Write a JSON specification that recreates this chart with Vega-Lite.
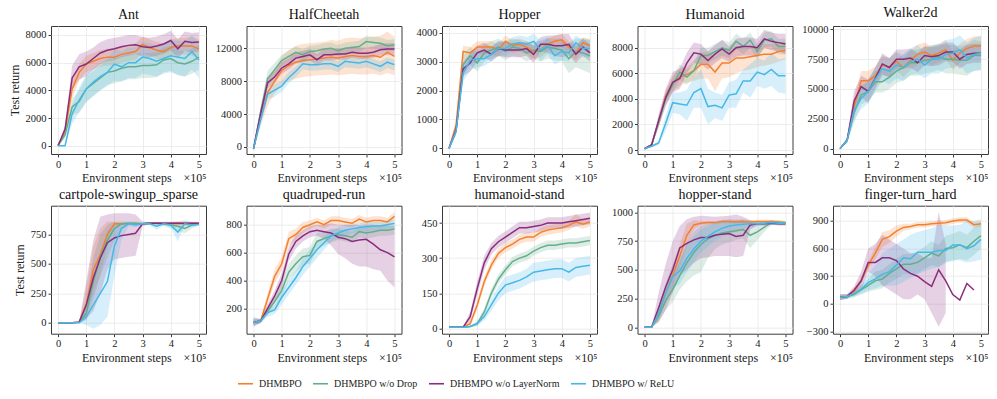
{
"$schema": "https://vega.github.io/schema/vega-lite/v6.json",
"padding": {"left": 7, "top": 5, "right": 5, "bottom": 5},
"columns": 5,
"spacing": {"row": 51.7, "column": 40.5},
"bounds": "flush",
"datasets": {
"ant": [
{"s":"a","x":0,"m":0,"l":0,"h":0},{"s":"a","x":0.25,"m":1000,"l":700,"h":1300},{"s":"a","x":0.5,"m":4100,"l":3400,"h":4800},{"s":"a","x":0.75,"m":5300,"l":4700,"h":5900},{"s":"a","x":1,"m":5900,"l":5300,"h":6500},{"s":"a","x":1.25,"m":6100,"l":5500,"h":6700},{"s":"a","x":1.5,"m":6300,"l":5700,"h":6900},{"s":"a","x":1.75,"m":6400,"l":5800,"h":7000},{"s":"a","x":2,"m":6400,"l":5800,"h":7000},{"s":"a","x":2.25,"m":6600,"l":6000,"h":7200},{"s":"a","x":2.5,"m":6700,"l":6100,"h":7300},{"s":"a","x":2.75,"m":6800,"l":6200,"h":7400},{"s":"a","x":3,"m":7300,"l":6700,"h":7900},{"s":"a","x":3.25,"m":7100,"l":6500,"h":7700},{"s":"a","x":3.5,"m":6900,"l":6300,"h":7500},{"s":"a","x":3.75,"m":6800,"l":6200,"h":7400},{"s":"a","x":4,"m":7100,"l":6500,"h":7700},{"s":"a","x":4.25,"m":7200,"l":6600,"h":7800},{"s":"a","x":4.5,"m":7200,"l":6600,"h":7800},{"s":"a","x":4.75,"m":7200,"l":6500,"h":7900},{"s":"a","x":5,"m":7000,"l":6300,"h":7700},
{"s":"b","x":0,"m":0,"l":0,"h":0},{"s":"b","x":0.25,"m":800,"l":500,"h":1100},{"s":"b","x":0.5,"m":2800,"l":2200,"h":3400},{"s":"b","x":0.75,"m":3200,"l":2400,"h":4000},{"s":"b","x":1,"m":4100,"l":3200,"h":5000},{"s":"b","x":1.25,"m":4500,"l":3600,"h":5400},{"s":"b","x":1.5,"m":4900,"l":4000,"h":5800},{"s":"b","x":1.75,"m":5300,"l":4400,"h":6200},{"s":"b","x":2,"m":5400,"l":4500,"h":6300},{"s":"b","x":2.25,"m":5600,"l":4700,"h":6500},{"s":"b","x":2.5,"m":5700,"l":4800,"h":6600},{"s":"b","x":2.75,"m":5700,"l":4800,"h":6600},{"s":"b","x":3,"m":5800,"l":4900,"h":6700},{"s":"b","x":3.25,"m":5800,"l":4900,"h":6700},{"s":"b","x":3.5,"m":5850,"l":4950,"h":6750},{"s":"b","x":3.75,"m":6200,"l":5300,"h":7100},{"s":"b","x":4,"m":6300,"l":5400,"h":7200},{"s":"b","x":4.25,"m":6000,"l":5100,"h":6900},{"s":"b","x":4.5,"m":5900,"l":5000,"h":6800},{"s":"b","x":4.75,"m":6100,"l":5200,"h":7000},{"s":"b","x":5,"m":6400,"l":5500,"h":7300},
{"s":"c","x":0,"m":0,"l":0,"h":0},{"s":"c","x":0.25,"m":1200,"l":900,"h":1500},{"s":"c","x":0.5,"m":4900,"l":4000,"h":5800},{"s":"c","x":0.75,"m":5700,"l":4800,"h":6600},{"s":"c","x":1,"m":5900,"l":5000,"h":6800},{"s":"c","x":1.25,"m":6300,"l":5500,"h":7100},{"s":"c","x":1.5,"m":6700,"l":5900,"h":7500},{"s":"c","x":1.75,"m":6900,"l":6100,"h":7700},{"s":"c","x":2,"m":7000,"l":6200,"h":7800},{"s":"c","x":2.25,"m":7150,"l":6400,"h":7900},{"s":"c","x":2.5,"m":7250,"l":6500,"h":8000},{"s":"c","x":2.75,"m":7300,"l":6600,"h":8000},{"s":"c","x":3,"m":7150,"l":6450,"h":7850},{"s":"c","x":3.25,"m":7100,"l":6400,"h":7800},{"s":"c","x":3.5,"m":7200,"l":6500,"h":7900},{"s":"c","x":3.75,"m":7350,"l":6650,"h":8050},{"s":"c","x":4,"m":7600,"l":6900,"h":8300},{"s":"c","x":4.25,"m":7000,"l":6300,"h":7700},{"s":"c","x":4.5,"m":7550,"l":6850,"h":8250},{"s":"c","x":4.75,"m":7450,"l":6750,"h":8150},{"s":"c","x":5,"m":7500,"l":6800,"h":8200},
{"s":"d","x":0,"m":0,"l":0,"h":0},{"s":"d","x":0.25,"m":0,"l":0,"h":0},{"s":"d","x":0.5,"m":2300,"l":1600,"h":3000},{"s":"d","x":0.75,"m":3300,"l":2400,"h":4200},{"s":"d","x":1,"m":4100,"l":3100,"h":5100},{"s":"d","x":1.25,"m":4600,"l":3600,"h":5600},{"s":"d","x":1.5,"m":5000,"l":4000,"h":6000},{"s":"d","x":1.75,"m":5300,"l":4300,"h":6300},{"s":"d","x":2,"m":5900,"l":4700,"h":7000},{"s":"d","x":2.25,"m":5700,"l":4600,"h":6800},{"s":"d","x":2.5,"m":6000,"l":4900,"h":7100},{"s":"d","x":2.75,"m":6000,"l":4900,"h":7100},{"s":"d","x":3,"m":6400,"l":5200,"h":7500},{"s":"d","x":3.25,"m":6300,"l":5100,"h":7400},{"s":"d","x":3.5,"m":6100,"l":5000,"h":7200},{"s":"d","x":3.75,"m":6300,"l":5200,"h":7400},{"s":"d","x":4,"m":6500,"l":5300,"h":7600},{"s":"d","x":4.25,"m":6400,"l":5100,"h":7600},{"s":"d","x":4.5,"m":6300,"l":5000,"h":7500},{"s":"d","x":4.75,"m":6800,"l":5500,"h":8000},{"s":"d","x":5,"m":6200,"l":4900,"h":7400}
],
"hc": [
{"s":"a","x":0,"m":-200,"l":-400,"h":0},{"s":"a","x":0.25,"m":3500,"l":2500,"h":4500},{"s":"a","x":0.5,"m":6600,"l":5000,"h":8000},{"s":"a","x":0.75,"m":8000,"l":6500,"h":9500},{"s":"a","x":1,"m":9300,"l":7600,"h":11000},{"s":"a","x":1.25,"m":9900,"l":8000,"h":11800},{"s":"a","x":1.5,"m":10300,"l":8300,"h":12300},{"s":"a","x":1.75,"m":10500,"l":8500,"h":12500},{"s":"a","x":2,"m":10600,"l":8600,"h":12600},{"s":"a","x":2.25,"m":10700,"l":8700,"h":12700},{"s":"a","x":2.5,"m":10800,"l":8700,"h":12800},{"s":"a","x":2.75,"m":10900,"l":8800,"h":13000},{"s":"a","x":3,"m":10800,"l":8700,"h":12900},{"s":"a","x":3.25,"m":11000,"l":8800,"h":13200},{"s":"a","x":3.5,"m":11100,"l":8900,"h":13300},{"s":"a","x":3.75,"m":11000,"l":8800,"h":13200},{"s":"a","x":4,"m":11000,"l":8800,"h":13300},{"s":"a","x":4.25,"m":11100,"l":8900,"h":13400},{"s":"a","x":4.5,"m":10900,"l":8700,"h":13500},{"s":"a","x":4.75,"m":11500,"l":9000,"h":14000},{"s":"a","x":5,"m":11000,"l":8700,"h":13400},
{"s":"b","x":0,"m":-200,"l":-400,"h":0},{"s":"b","x":0.25,"m":4200,"l":3500,"h":4900},{"s":"b","x":0.5,"m":8300,"l":7300,"h":9300},{"s":"b","x":0.75,"m":9400,"l":8600,"h":10200},{"s":"b","x":1,"m":10500,"l":9800,"h":11200},{"s":"b","x":1.25,"m":11000,"l":10300,"h":11700},{"s":"b","x":1.5,"m":11500,"l":10800,"h":12200},{"s":"b","x":1.75,"m":11200,"l":10500,"h":11900},{"s":"b","x":2,"m":11600,"l":10900,"h":12300},{"s":"b","x":2.25,"m":11700,"l":11000,"h":12400},{"s":"b","x":2.5,"m":11900,"l":11200,"h":12600},{"s":"b","x":2.75,"m":12000,"l":11300,"h":12700},{"s":"b","x":3,"m":11700,"l":11000,"h":12400},{"s":"b","x":3.25,"m":12000,"l":11300,"h":12700},{"s":"b","x":3.5,"m":12100,"l":11400,"h":12800},{"s":"b","x":3.75,"m":12200,"l":11500,"h":12900},{"s":"b","x":4,"m":12800,"l":12100,"h":13500},{"s":"b","x":4.25,"m":12700,"l":12000,"h":13400},{"s":"b","x":4.5,"m":12600,"l":11900,"h":13300},{"s":"b","x":4.75,"m":12300,"l":11600,"h":13000},{"s":"b","x":5,"m":12400,"l":11700,"h":13100},
{"s":"c","x":0,"m":-200,"l":-400,"h":0},{"s":"c","x":0.25,"m":4000,"l":3300,"h":4700},{"s":"c","x":0.5,"m":7800,"l":7100,"h":8500},{"s":"c","x":0.75,"m":8500,"l":7800,"h":9200},{"s":"c","x":1,"m":9600,"l":8900,"h":10300},{"s":"c","x":1.25,"m":10100,"l":9400,"h":10800},{"s":"c","x":1.5,"m":10800,"l":10100,"h":11500},{"s":"c","x":1.75,"m":11000,"l":10300,"h":11700},{"s":"c","x":2,"m":11200,"l":10500,"h":11900},{"s":"c","x":2.25,"m":10600,"l":9900,"h":11300},{"s":"c","x":2.5,"m":11200,"l":10500,"h":11900},{"s":"c","x":2.75,"m":11200,"l":10500,"h":11900},{"s":"c","x":3,"m":11300,"l":10600,"h":12000},{"s":"c","x":3.25,"m":11300,"l":10600,"h":12000},{"s":"c","x":3.5,"m":11500,"l":10800,"h":12200},{"s":"c","x":3.75,"m":11400,"l":10700,"h":12100},{"s":"c","x":4,"m":11400,"l":10700,"h":12100},{"s":"c","x":4.25,"m":11500,"l":10800,"h":12200},{"s":"c","x":4.5,"m":11800,"l":11100,"h":12500},{"s":"c","x":4.75,"m":11900,"l":11200,"h":12600},{"s":"c","x":5,"m":11900,"l":11200,"h":12600},
{"s":"d","x":0,"m":-200,"l":-400,"h":0},{"s":"d","x":0.25,"m":3300,"l":2600,"h":4000},{"s":"d","x":0.5,"m":6400,"l":5800,"h":7000},{"s":"d","x":0.75,"m":6900,"l":6100,"h":7700},{"s":"d","x":1,"m":7400,"l":6700,"h":8000},{"s":"d","x":1.25,"m":8400,"l":7700,"h":9100},{"s":"d","x":1.5,"m":9200,"l":8500,"h":9800},{"s":"d","x":1.75,"m":10100,"l":9400,"h":10700},{"s":"d","x":2,"m":10000,"l":9300,"h":10600},{"s":"d","x":2.25,"m":10000,"l":9300,"h":10600},{"s":"d","x":2.5,"m":10100,"l":9400,"h":10700},{"s":"d","x":2.75,"m":10100,"l":9400,"h":10700},{"s":"d","x":3,"m":9800,"l":9100,"h":10400},{"s":"d","x":3.25,"m":10400,"l":9700,"h":11000},{"s":"d","x":3.5,"m":10300,"l":9600,"h":10900},{"s":"d","x":3.75,"m":10200,"l":9500,"h":10800},{"s":"d","x":4,"m":10400,"l":9700,"h":11000},{"s":"d","x":4.25,"m":10100,"l":9400,"h":10700},{"s":"d","x":4.5,"m":9800,"l":9100,"h":10400},{"s":"d","x":4.75,"m":10300,"l":9600,"h":10900},{"s":"d","x":5,"m":10000,"l":9300,"h":10600}
],
"hop": [
{"s":"a","x":0,"m":0,"l":0,"h":0},{"s":"a","x":0.25,"m":800,"l":600,"h":1000},{"s":"a","x":0.5,"m":3350,"l":3050,"h":3550},{"s":"a","x":0.75,"m":3300,"l":3050,"h":3500},{"s":"a","x":1,"m":3500,"l":3250,"h":3700},{"s":"a","x":1.25,"m":3500,"l":3250,"h":3700},{"s":"a","x":1.5,"m":3500,"l":3250,"h":3700},{"s":"a","x":1.75,"m":3400,"l":3150,"h":3600},{"s":"a","x":2,"m":3700,"l":3450,"h":3900},{"s":"a","x":2.25,"m":3550,"l":3300,"h":3750},{"s":"a","x":2.5,"m":3600,"l":3350,"h":3800},{"s":"a","x":2.75,"m":3500,"l":3250,"h":3700},{"s":"a","x":3,"m":3350,"l":3100,"h":3550},{"s":"a","x":3.25,"m":3400,"l":3150,"h":3600},{"s":"a","x":3.5,"m":3600,"l":3350,"h":3800},{"s":"a","x":3.75,"m":3700,"l":3450,"h":3900},{"s":"a","x":4,"m":3750,"l":3500,"h":3950},{"s":"a","x":4.25,"m":3500,"l":3250,"h":3700},{"s":"a","x":4.5,"m":3300,"l":3050,"h":3500},{"s":"a","x":4.75,"m":3650,"l":3400,"h":3850},{"s":"a","x":5,"m":3550,"l":3300,"h":3750},
{"s":"b","x":0,"m":0,"l":0,"h":0},{"s":"b","x":0.25,"m":600,"l":450,"h":750},{"s":"b","x":0.5,"m":2900,"l":2500,"h":3200},{"s":"b","x":0.75,"m":3200,"l":2900,"h":3500},{"s":"b","x":1,"m":2950,"l":2650,"h":3250},{"s":"b","x":1.25,"m":3300,"l":3000,"h":3600},{"s":"b","x":1.5,"m":3400,"l":3100,"h":3700},{"s":"b","x":1.75,"m":3500,"l":3200,"h":3800},{"s":"b","x":2,"m":3350,"l":3050,"h":3650},{"s":"b","x":2.25,"m":3500,"l":3200,"h":3800},{"s":"b","x":2.5,"m":3450,"l":3150,"h":3750},{"s":"b","x":2.75,"m":3300,"l":3000,"h":3600},{"s":"b","x":3,"m":3400,"l":3100,"h":3700},{"s":"b","x":3.25,"m":3350,"l":3000,"h":3700},{"s":"b","x":3.5,"m":3500,"l":3100,"h":3800},{"s":"b","x":3.75,"m":3450,"l":3050,"h":3800},{"s":"b","x":4,"m":3400,"l":3000,"h":3800},{"s":"b","x":4.25,"m":3100,"l":2600,"h":3600},{"s":"b","x":4.5,"m":3350,"l":2800,"h":3800},{"s":"b","x":4.75,"m":3300,"l":2700,"h":3800},{"s":"b","x":5,"m":3200,"l":2600,"h":3800},
{"s":"c","x":0,"m":0,"l":0,"h":0},{"s":"c","x":0.25,"m":650,"l":500,"h":800},{"s":"c","x":0.5,"m":2750,"l":2500,"h":3000},{"s":"c","x":0.75,"m":2950,"l":2650,"h":3250},{"s":"c","x":1,"m":3300,"l":3000,"h":3550},{"s":"c","x":1.25,"m":3400,"l":3150,"h":3650},{"s":"c","x":1.5,"m":3250,"l":3000,"h":3500},{"s":"c","x":1.75,"m":3450,"l":3200,"h":3700},{"s":"c","x":2,"m":3400,"l":3150,"h":3650},{"s":"c","x":2.25,"m":3400,"l":3150,"h":3650},{"s":"c","x":2.5,"m":3400,"l":3150,"h":3650},{"s":"c","x":2.75,"m":3450,"l":3200,"h":3700},{"s":"c","x":3,"m":3250,"l":2950,"h":3550},{"s":"c","x":3.25,"m":3600,"l":3350,"h":3850},{"s":"c","x":3.5,"m":3600,"l":3300,"h":3900},{"s":"c","x":3.75,"m":3550,"l":3200,"h":3900},{"s":"c","x":4,"m":3550,"l":3150,"h":3950},{"s":"c","x":4.25,"m":3600,"l":3200,"h":3950},{"s":"c","x":4.5,"m":3250,"l":2950,"h":3550},{"s":"c","x":4.75,"m":3500,"l":3200,"h":3800},{"s":"c","x":5,"m":3300,"l":3000,"h":3600},
{"s":"d","x":0,"m":0,"l":0,"h":0},{"s":"d","x":0.25,"m":600,"l":450,"h":750},{"s":"d","x":0.5,"m":2600,"l":2300,"h":2900},{"s":"d","x":0.75,"m":3050,"l":2700,"h":3350},{"s":"d","x":1,"m":3100,"l":2800,"h":3400},{"s":"d","x":1.25,"m":3100,"l":2850,"h":3350},{"s":"d","x":1.5,"m":3250,"l":3000,"h":3500},{"s":"d","x":1.75,"m":3450,"l":3200,"h":3700},{"s":"d","x":2,"m":3450,"l":3200,"h":3700},{"s":"d","x":2.25,"m":3600,"l":3350,"h":3850},{"s":"d","x":2.5,"m":3650,"l":3400,"h":3900},{"s":"d","x":2.75,"m":3600,"l":3350,"h":3850},{"s":"d","x":3,"m":3700,"l":3450,"h":3950},{"s":"d","x":3.25,"m":3400,"l":3000,"h":3750},{"s":"d","x":3.5,"m":3550,"l":3250,"h":3850},{"s":"d","x":3.75,"m":3200,"l":2900,"h":3500},{"s":"d","x":4,"m":3350,"l":3050,"h":3650},{"s":"d","x":4.25,"m":3300,"l":3000,"h":3600},{"s":"d","x":4.5,"m":3650,"l":3400,"h":3900},{"s":"d","x":4.75,"m":3450,"l":3150,"h":3750},{"s":"d","x":5,"m":3450,"l":3150,"h":3750}
],
"hum": [
{"s":"a","x":0,"m":100,"l":100,"h":100},{"s":"a","x":0.25,"m":400,"l":300,"h":500},{"s":"a","x":0.5,"m":2200,"l":1800,"h":2600},{"s":"a","x":0.75,"m":4200,"l":3700,"h":4700},{"s":"a","x":1,"m":5200,"l":4600,"h":5800},{"s":"a","x":1.25,"m":5700,"l":5000,"h":6400},{"s":"a","x":1.5,"m":5900,"l":5300,"h":6500},{"s":"a","x":1.75,"m":6200,"l":5400,"h":7000},{"s":"a","x":2,"m":6700,"l":5600,"h":7600},{"s":"a","x":2.25,"m":6700,"l":5600,"h":7700},{"s":"a","x":2.5,"m":6100,"l":4600,"h":7300},{"s":"a","x":2.75,"m":6800,"l":5600,"h":7800},{"s":"a","x":3,"m":6800,"l":5700,"h":7800},{"s":"a","x":3.25,"m":7200,"l":6000,"h":8200},{"s":"a","x":3.5,"m":7200,"l":6200,"h":8000},{"s":"a","x":3.75,"m":7300,"l":6300,"h":8100},{"s":"a","x":4,"m":7400,"l":6500,"h":8200},{"s":"a","x":4.25,"m":7500,"l":6600,"h":8300},{"s":"a","x":4.5,"m":7500,"l":6700,"h":8300},{"s":"a","x":4.75,"m":7700,"l":6900,"h":8400},{"s":"a","x":5,"m":7800,"l":7100,"h":8500},
{"s":"b","x":0,"m":100,"l":100,"h":100},{"s":"b","x":0.25,"m":400,"l":300,"h":500},{"s":"b","x":0.5,"m":2200,"l":1800,"h":2600},{"s":"b","x":0.75,"m":4000,"l":3500,"h":4500},{"s":"b","x":1,"m":5100,"l":4500,"h":5700},{"s":"b","x":1.25,"m":6100,"l":5500,"h":6700},{"s":"b","x":1.5,"m":5700,"l":5100,"h":6300},{"s":"b","x":1.75,"m":6200,"l":5600,"h":6800},{"s":"b","x":2,"m":7400,"l":6800,"h":8000},{"s":"b","x":2.25,"m":7400,"l":6800,"h":8000},{"s":"b","x":2.5,"m":7700,"l":7100,"h":8300},{"s":"b","x":2.75,"m":8000,"l":7400,"h":8600},{"s":"b","x":3,"m":7800,"l":7200,"h":8400},{"s":"b","x":3.25,"m":8500,"l":7900,"h":9100},{"s":"b","x":3.5,"m":8100,"l":7500,"h":8700},{"s":"b","x":3.75,"m":8600,"l":8000,"h":9200},{"s":"b","x":4,"m":7700,"l":7100,"h":8300},{"s":"b","x":4.25,"m":8600,"l":8000,"h":9200},{"s":"b","x":4.5,"m":8700,"l":8100,"h":9300},{"s":"b","x":4.75,"m":8100,"l":7500,"h":8700},{"s":"b","x":5,"m":8100,"l":7500,"h":8700},
{"s":"c","x":0,"m":100,"l":100,"h":100},{"s":"c","x":0.25,"m":400,"l":300,"h":500},{"s":"c","x":0.5,"m":2300,"l":1800,"h":2800},{"s":"c","x":0.75,"m":4100,"l":3400,"h":4800},{"s":"c","x":1,"m":5300,"l":4500,"h":6100},{"s":"c","x":1.25,"m":5600,"l":4800,"h":6400},{"s":"c","x":1.5,"m":6800,"l":6000,"h":7600},{"s":"c","x":1.75,"m":7600,"l":6800,"h":8400},{"s":"c","x":2,"m":7500,"l":6700,"h":8300},{"s":"c","x":2.25,"m":7000,"l":6300,"h":7700},{"s":"c","x":2.5,"m":7500,"l":6800,"h":8200},{"s":"c","x":2.75,"m":7900,"l":7200,"h":8600},{"s":"c","x":3,"m":7500,"l":6900,"h":8100},{"s":"c","x":3.25,"m":8000,"l":7300,"h":8700},{"s":"c","x":3.5,"m":8100,"l":7400,"h":8800},{"s":"c","x":3.75,"m":8100,"l":7400,"h":8800},{"s":"c","x":4,"m":8000,"l":7300,"h":8700},{"s":"c","x":4.25,"m":8700,"l":8000,"h":9400},{"s":"c","x":4.5,"m":8500,"l":7800,"h":9200},{"s":"c","x":4.75,"m":8400,"l":7700,"h":9100},{"s":"c","x":5,"m":8300,"l":7500,"h":9100},
{"s":"d","x":0,"m":100,"l":100,"h":100},{"s":"d","x":0.25,"m":300,"l":200,"h":400},{"s":"d","x":0.5,"m":550,"l":400,"h":700},{"s":"d","x":0.75,"m":2100,"l":1500,"h":2700},{"s":"d","x":1,"m":3700,"l":2900,"h":4500},{"s":"d","x":1.25,"m":3600,"l":2800,"h":4500},{"s":"d","x":1.5,"m":3500,"l":2300,"h":4700},{"s":"d","x":1.75,"m":4500,"l":3300,"h":5700},{"s":"d","x":2,"m":4800,"l":3300,"h":6300},{"s":"d","x":2.25,"m":3400,"l":2000,"h":4800},{"s":"d","x":2.5,"m":3500,"l":2500,"h":4500},{"s":"d","x":2.75,"m":3300,"l":2300,"h":4300},{"s":"d","x":3,"m":4300,"l":3300,"h":5300},{"s":"d","x":3.25,"m":4400,"l":3300,"h":5500},{"s":"d","x":3.5,"m":5400,"l":4500,"h":6300},{"s":"d","x":3.75,"m":5400,"l":4100,"h":6700},{"s":"d","x":4,"m":6100,"l":5000,"h":7200},{"s":"d","x":4.25,"m":5900,"l":4800,"h":7000},{"s":"d","x":4.5,"m":6300,"l":5000,"h":7600},{"s":"d","x":4.75,"m":5800,"l":4500,"h":7100},{"s":"d","x":5,"m":5800,"l":4400,"h":7200}
],
"wal": [
{"s":"a","x":0,"m":0,"l":0,"h":0},{"s":"a","x":0.25,"m":700,"l":500,"h":900},{"s":"a","x":0.5,"m":3500,"l":2700,"h":4300},{"s":"a","x":0.75,"m":5700,"l":4900,"h":6500},{"s":"a","x":1,"m":5700,"l":4900,"h":6500},{"s":"a","x":1.25,"m":6100,"l":5300,"h":6900},{"s":"a","x":1.5,"m":7000,"l":6200,"h":7800},{"s":"a","x":1.75,"m":6800,"l":6000,"h":7600},{"s":"a","x":2,"m":7300,"l":6500,"h":8100},{"s":"a","x":2.25,"m":6800,"l":6000,"h":7600},{"s":"a","x":2.5,"m":7400,"l":6600,"h":8200},{"s":"a","x":2.75,"m":7900,"l":7100,"h":8700},{"s":"a","x":3,"m":8100,"l":7300,"h":8900},{"s":"a","x":3.25,"m":7800,"l":7000,"h":8600},{"s":"a","x":3.5,"m":8000,"l":7200,"h":8800},{"s":"a","x":3.75,"m":8300,"l":7500,"h":9100},{"s":"a","x":4,"m":7400,"l":6600,"h":8200},{"s":"a","x":4.25,"m":8000,"l":7200,"h":8800},{"s":"a","x":4.5,"m":8400,"l":7600,"h":9200},{"s":"a","x":4.75,"m":8600,"l":7800,"h":9400},{"s":"a","x":5,"m":8600,"l":7800,"h":9400},
{"s":"b","x":0,"m":0,"l":0,"h":0},{"s":"b","x":0.25,"m":700,"l":500,"h":900},{"s":"b","x":0.5,"m":3000,"l":2200,"h":3800},{"s":"b","x":0.75,"m":4500,"l":3700,"h":5300},{"s":"b","x":1,"m":4800,"l":4000,"h":5600},{"s":"b","x":1.25,"m":5600,"l":4700,"h":6500},{"s":"b","x":1.5,"m":5600,"l":4700,"h":6500},{"s":"b","x":1.75,"m":6000,"l":5000,"h":7000},{"s":"b","x":2,"m":6500,"l":5500,"h":7500},{"s":"b","x":2.25,"m":6800,"l":5700,"h":7900},{"s":"b","x":2.5,"m":7200,"l":6100,"h":8300},{"s":"b","x":2.75,"m":7200,"l":6100,"h":8300},{"s":"b","x":3,"m":7400,"l":6300,"h":8500},{"s":"b","x":3.25,"m":7500,"l":6400,"h":8600},{"s":"b","x":3.5,"m":7700,"l":6600,"h":8800},{"s":"b","x":3.75,"m":7500,"l":6300,"h":8700},{"s":"b","x":4,"m":7500,"l":6300,"h":8700},{"s":"b","x":4.25,"m":7400,"l":6200,"h":8600},{"s":"b","x":4.5,"m":7400,"l":6100,"h":8700},{"s":"b","x":4.75,"m":7800,"l":6500,"h":9100},{"s":"b","x":5,"m":7800,"l":6600,"h":9000},
{"s":"c","x":0,"m":0,"l":0,"h":0},{"s":"c","x":0.25,"m":700,"l":500,"h":900},{"s":"c","x":0.5,"m":4000,"l":3200,"h":4800},{"s":"c","x":0.75,"m":5200,"l":4300,"h":6100},{"s":"c","x":1,"m":4800,"l":3800,"h":5800},{"s":"c","x":1.25,"m":5900,"l":5000,"h":6800},{"s":"c","x":1.5,"m":7100,"l":6200,"h":8000},{"s":"c","x":1.75,"m":6800,"l":6000,"h":7600},{"s":"c","x":2,"m":7500,"l":6700,"h":8300},{"s":"c","x":2.25,"m":7500,"l":6700,"h":8300},{"s":"c","x":2.5,"m":7600,"l":6800,"h":8400},{"s":"c","x":2.75,"m":7200,"l":6400,"h":8000},{"s":"c","x":3,"m":7800,"l":7000,"h":8600},{"s":"c","x":3.25,"m":7700,"l":6900,"h":8500},{"s":"c","x":3.5,"m":7800,"l":7000,"h":8600},{"s":"c","x":3.75,"m":8100,"l":7300,"h":8900},{"s":"c","x":4,"m":8100,"l":7300,"h":8900},{"s":"c","x":4.25,"m":7500,"l":6700,"h":8300},{"s":"c","x":4.5,"m":7900,"l":7100,"h":8700},{"s":"c","x":4.75,"m":8000,"l":7200,"h":8800},{"s":"c","x":5,"m":8000,"l":7200,"h":8800},
{"s":"d","x":0,"m":0,"l":0,"h":0},{"s":"d","x":0.25,"m":700,"l":500,"h":900},{"s":"d","x":0.5,"m":3200,"l":2400,"h":4000},{"s":"d","x":0.75,"m":4200,"l":3300,"h":5100},{"s":"d","x":1,"m":4800,"l":3800,"h":5800},{"s":"d","x":1.25,"m":5800,"l":4800,"h":6800},{"s":"d","x":1.5,"m":6700,"l":5700,"h":7700},{"s":"d","x":1.75,"m":6500,"l":5400,"h":7600},{"s":"d","x":2,"m":7000,"l":5900,"h":8100},{"s":"d","x":2.25,"m":6800,"l":5700,"h":7900},{"s":"d","x":2.5,"m":7300,"l":6200,"h":8400},{"s":"d","x":2.75,"m":7500,"l":6300,"h":8700},{"s":"d","x":3,"m":7000,"l":5900,"h":8100},{"s":"d","x":3.25,"m":7500,"l":6300,"h":8700},{"s":"d","x":3.5,"m":7500,"l":6300,"h":8700},{"s":"d","x":3.75,"m":7900,"l":6700,"h":9100},{"s":"d","x":4,"m":8000,"l":6800,"h":9200},{"s":"d","x":4.25,"m":8300,"l":7000,"h":9500},{"s":"d","x":4.5,"m":7600,"l":6300,"h":8900},{"s":"d","x":4.75,"m":7900,"l":6500,"h":9300},{"s":"d","x":5,"m":8000,"l":6600,"h":9500}
],
"cart": [
{"s":"a","x":0,"m":0,"l":0,"h":0},{"s":"a","x":0.25,"m":0,"l":0,"h":0},{"s":"a","x":0.5,"m":0,"l":0,"h":0},{"s":"a","x":0.75,"m":5,"l":0,"h":10},{"s":"a","x":1,"m":150,"l":50,"h":300},{"s":"a","x":1.25,"m":450,"l":250,"h":650},{"s":"a","x":1.5,"m":580,"l":400,"h":800},{"s":"a","x":1.75,"m":750,"l":650,"h":860},{"s":"a","x":2,"m":840,"l":820,"h":855},{"s":"a","x":2.25,"m":840,"l":830,"h":850},{"s":"a","x":2.5,"m":840,"l":830,"h":850},{"s":"a","x":2.75,"m":840,"l":830,"h":850},{"s":"a","x":3,"m":840,"l":830,"h":850},{"s":"a","x":3.25,"m":845,"l":835,"h":855},{"s":"a","x":3.5,"m":845,"l":835,"h":855},{"s":"a","x":3.75,"m":840,"l":825,"h":855},{"s":"a","x":4,"m":840,"l":825,"h":855},{"s":"a","x":4.25,"m":845,"l":830,"h":860},{"s":"a","x":4.5,"m":840,"l":820,"h":860},{"s":"a","x":4.75,"m":840,"l":825,"h":855},{"s":"a","x":5,"m":845,"l":835,"h":855},
{"s":"b","x":0,"m":0,"l":0,"h":0},{"s":"b","x":0.25,"m":0,"l":0,"h":0},{"s":"b","x":0.5,"m":0,"l":0,"h":0},{"s":"b","x":0.75,"m":5,"l":0,"h":10},{"s":"b","x":1,"m":80,"l":20,"h":200},{"s":"b","x":1.25,"m":350,"l":200,"h":550},{"s":"b","x":1.5,"m":560,"l":400,"h":750},{"s":"b","x":1.75,"m":700,"l":550,"h":830},{"s":"b","x":2,"m":800,"l":700,"h":860},{"s":"b","x":2.25,"m":840,"l":800,"h":860},{"s":"b","x":2.5,"m":845,"l":830,"h":860},{"s":"b","x":2.75,"m":845,"l":830,"h":860},{"s":"b","x":3,"m":840,"l":830,"h":850},{"s":"b","x":3.25,"m":845,"l":835,"h":855},{"s":"b","x":3.5,"m":845,"l":835,"h":855},{"s":"b","x":3.75,"m":840,"l":820,"h":860},{"s":"b","x":4,"m":830,"l":800,"h":860},{"s":"b","x":4.25,"m":820,"l":780,"h":860},{"s":"b","x":4.5,"m":800,"l":760,"h":870},{"s":"b","x":4.75,"m":830,"l":800,"h":860},{"s":"b","x":5,"m":840,"l":825,"h":855},
{"s":"c","x":0,"m":0,"l":0,"h":0},{"s":"c","x":0.25,"m":0,"l":0,"h":0},{"s":"c","x":0.5,"m":0,"l":0,"h":0},{"s":"c","x":0.75,"m":5,"l":0,"h":10},{"s":"c","x":1,"m":150,"l":30,"h":350},{"s":"c","x":1.25,"m":380,"l":100,"h":700},{"s":"c","x":1.5,"m":550,"l":250,"h":900},{"s":"c","x":1.75,"m":680,"l":450,"h":920},{"s":"c","x":2,"m":720,"l":540,"h":930},{"s":"c","x":2.25,"m":740,"l":550,"h":930},{"s":"c","x":2.5,"m":750,"l":560,"h":930},{"s":"c","x":2.75,"m":760,"l":570,"h":920},{"s":"c","x":3,"m":840,"l":820,"h":860},{"s":"c","x":3.25,"m":845,"l":835,"h":855},{"s":"c","x":3.5,"m":845,"l":835,"h":855},{"s":"c","x":3.75,"m":845,"l":835,"h":855},{"s":"c","x":4,"m":845,"l":835,"h":855},{"s":"c","x":4.25,"m":845,"l":835,"h":855},{"s":"c","x":4.5,"m":845,"l":835,"h":855},{"s":"c","x":4.75,"m":845,"l":835,"h":855},{"s":"c","x":5,"m":845,"l":835,"h":855},
{"s":"d","x":0,"m":0,"l":0,"h":0},{"s":"d","x":0.25,"m":0,"l":0,"h":0},{"s":"d","x":0.5,"m":0,"l":0,"h":0},{"s":"d","x":0.75,"m":0,"l":0,"h":5},{"s":"d","x":1,"m":50,"l":-20,"h":150},{"s":"d","x":1.25,"m":150,"l":-50,"h":400},{"s":"d","x":1.5,"m":250,"l":-20,"h":600},{"s":"d","x":1.75,"m":350,"l":50,"h":780},{"s":"d","x":2,"m":650,"l":400,"h":830},{"s":"d","x":2.25,"m":800,"l":700,"h":850},{"s":"d","x":2.5,"m":840,"l":820,"h":855},{"s":"d","x":2.75,"m":830,"l":810,"h":850},{"s":"d","x":3,"m":840,"l":830,"h":850},{"s":"d","x":3.25,"m":840,"l":830,"h":850},{"s":"d","x":3.5,"m":820,"l":790,"h":850},{"s":"d","x":3.75,"m":840,"l":830,"h":850},{"s":"d","x":4,"m":830,"l":810,"h":850},{"s":"d","x":4.25,"m":770,"l":690,"h":840},{"s":"d","x":4.5,"m":840,"l":830,"h":850},{"s":"d","x":4.75,"m":830,"l":815,"h":845},{"s":"d","x":5,"m":835,"l":825,"h":845}
],
"quad": [
{"s":"a","x":0,"m":100,"l":80,"h":120},{"s":"a","x":0.25,"m":110,"l":95,"h":125},{"s":"a","x":0.5,"m":270,"l":230,"h":310},{"s":"a","x":0.75,"m":430,"l":380,"h":480},{"s":"a","x":1,"m":520,"l":470,"h":570},{"s":"a","x":1.25,"m":700,"l":650,"h":750},{"s":"a","x":1.5,"m":730,"l":690,"h":770},{"s":"a","x":1.75,"m":780,"l":740,"h":820},{"s":"a","x":2,"m":800,"l":770,"h":830},{"s":"a","x":2.25,"m":820,"l":790,"h":850},{"s":"a","x":2.5,"m":800,"l":770,"h":830},{"s":"a","x":2.75,"m":830,"l":800,"h":860},{"s":"a","x":3,"m":830,"l":800,"h":860},{"s":"a","x":3.25,"m":820,"l":790,"h":850},{"s":"a","x":3.5,"m":810,"l":780,"h":840},{"s":"a","x":3.75,"m":840,"l":810,"h":870},{"s":"a","x":4,"m":820,"l":790,"h":850},{"s":"a","x":4.25,"m":830,"l":800,"h":860},{"s":"a","x":4.5,"m":830,"l":800,"h":860},{"s":"a","x":4.75,"m":820,"l":790,"h":850},{"s":"a","x":5,"m":860,"l":830,"h":890},
{"s":"b","x":0,"m":100,"l":80,"h":120},{"s":"b","x":0.25,"m":110,"l":95,"h":125},{"s":"b","x":0.5,"m":180,"l":150,"h":210},{"s":"b","x":0.75,"m":250,"l":210,"h":290},{"s":"b","x":1,"m":330,"l":280,"h":380},{"s":"b","x":1.25,"m":460,"l":400,"h":520},{"s":"b","x":1.5,"m":520,"l":460,"h":580},{"s":"b","x":1.75,"m":570,"l":510,"h":630},{"s":"b","x":2,"m":580,"l":520,"h":640},{"s":"b","x":2.25,"m":680,"l":620,"h":740},{"s":"b","x":2.5,"m":700,"l":650,"h":750},{"s":"b","x":2.75,"m":720,"l":670,"h":770},{"s":"b","x":3,"m":730,"l":690,"h":770},{"s":"b","x":3.25,"m":720,"l":680,"h":760},{"s":"b","x":3.5,"m":710,"l":670,"h":750},{"s":"b","x":3.75,"m":750,"l":710,"h":790},{"s":"b","x":4,"m":740,"l":700,"h":780},{"s":"b","x":4.25,"m":750,"l":710,"h":790},{"s":"b","x":4.5,"m":760,"l":720,"h":800},{"s":"b","x":4.75,"m":760,"l":720,"h":800},{"s":"b","x":5,"m":770,"l":730,"h":810},
{"s":"c","x":0,"m":100,"l":70,"h":130},{"s":"c","x":0.25,"m":110,"l":95,"h":125},{"s":"c","x":0.5,"m":200,"l":170,"h":230},{"s":"c","x":0.75,"m":290,"l":250,"h":330},{"s":"c","x":1,"m":400,"l":350,"h":450},{"s":"c","x":1.25,"m":590,"l":540,"h":640},{"s":"c","x":1.5,"m":680,"l":630,"h":730},{"s":"c","x":1.75,"m":720,"l":680,"h":760},{"s":"c","x":2,"m":750,"l":710,"h":790},{"s":"c","x":2.25,"m":760,"l":720,"h":800},{"s":"c","x":2.5,"m":750,"l":700,"h":800},{"s":"c","x":2.75,"m":740,"l":650,"h":810},{"s":"c","x":3,"m":710,"l":590,"h":800},{"s":"c","x":3.25,"m":700,"l":560,"h":800},{"s":"c","x":3.5,"m":680,"l":520,"h":800},{"s":"c","x":3.75,"m":690,"l":500,"h":800},{"s":"c","x":4,"m":695,"l":500,"h":800},{"s":"c","x":4.25,"m":660,"l":480,"h":800},{"s":"c","x":4.5,"m":620,"l":470,"h":790},{"s":"c","x":4.75,"m":600,"l":400,"h":790},{"s":"c","x":5,"m":570,"l":350,"h":790},
{"s":"d","x":0,"m":100,"l":70,"h":140},{"s":"d","x":0.25,"m":110,"l":95,"h":125},{"s":"d","x":0.5,"m":170,"l":140,"h":200},{"s":"d","x":0.75,"m":190,"l":160,"h":220},{"s":"d","x":1,"m":280,"l":230,"h":330},{"s":"d","x":1.25,"m":350,"l":300,"h":400},{"s":"d","x":1.5,"m":420,"l":370,"h":470},{"s":"d","x":1.75,"m":500,"l":440,"h":560},{"s":"d","x":2,"m":560,"l":500,"h":620},{"s":"d","x":2.25,"m":620,"l":560,"h":680},{"s":"d","x":2.5,"m":670,"l":620,"h":720},{"s":"d","x":2.75,"m":720,"l":680,"h":760},{"s":"d","x":3,"m":740,"l":700,"h":780},{"s":"d","x":3.25,"m":760,"l":720,"h":800},{"s":"d","x":3.5,"m":770,"l":740,"h":800},{"s":"d","x":3.75,"m":780,"l":750,"h":810},{"s":"d","x":4,"m":785,"l":750,"h":820},{"s":"d","x":4.25,"m":790,"l":760,"h":820},{"s":"d","x":4.5,"m":790,"l":760,"h":820},{"s":"d","x":4.75,"m":800,"l":770,"h":830},{"s":"d","x":5,"m":810,"l":780,"h":840}
],
"hstand": [
{"s":"a","x":0,"m":5,"l":3,"h":7},{"s":"a","x":0.25,"m":5,"l":3,"h":7},{"s":"a","x":0.5,"m":5,"l":3,"h":7},{"s":"a","x":0.75,"m":20,"l":10,"h":30},{"s":"a","x":1,"m":100,"l":80,"h":120},{"s":"a","x":1.25,"m":200,"l":180,"h":220},{"s":"a","x":1.5,"m":270,"l":250,"h":290},{"s":"a","x":1.75,"m":320,"l":300,"h":340},{"s":"a","x":2,"m":345,"l":325,"h":365},{"s":"a","x":2.25,"m":360,"l":340,"h":380},{"s":"a","x":2.5,"m":380,"l":360,"h":400},{"s":"a","x":2.75,"m":390,"l":370,"h":410},{"s":"a","x":3,"m":390,"l":370,"h":410},{"s":"a","x":3.25,"m":410,"l":390,"h":430},{"s":"a","x":3.5,"m":420,"l":400,"h":440},{"s":"a","x":3.75,"m":425,"l":405,"h":445},{"s":"a","x":4,"m":430,"l":410,"h":450},{"s":"a","x":4.25,"m":440,"l":420,"h":460},{"s":"a","x":4.5,"m":455,"l":435,"h":490},{"s":"a","x":4.75,"m":445,"l":425,"h":465},{"s":"a","x":5,"m":455,"l":435,"h":475},
{"s":"b","x":0,"m":5,"l":3,"h":7},{"s":"b","x":0.25,"m":5,"l":3,"h":7},{"s":"b","x":0.5,"m":5,"l":3,"h":7},{"s":"b","x":0.75,"m":8,"l":5,"h":11},{"s":"b","x":1,"m":20,"l":10,"h":30},{"s":"b","x":1.25,"m":70,"l":55,"h":85},{"s":"b","x":1.5,"m":150,"l":130,"h":170},{"s":"b","x":1.75,"m":210,"l":190,"h":230},{"s":"b","x":2,"m":250,"l":230,"h":270},{"s":"b","x":2.25,"m":285,"l":265,"h":305},{"s":"b","x":2.5,"m":300,"l":280,"h":320},{"s":"b","x":2.75,"m":310,"l":290,"h":330},{"s":"b","x":3,"m":330,"l":310,"h":350},{"s":"b","x":3.25,"m":345,"l":325,"h":365},{"s":"b","x":3.5,"m":355,"l":335,"h":375},{"s":"b","x":3.75,"m":355,"l":335,"h":375},{"s":"b","x":4,"m":360,"l":340,"h":380},{"s":"b","x":4.25,"m":365,"l":345,"h":385},{"s":"b","x":4.5,"m":365,"l":345,"h":385},{"s":"b","x":4.75,"m":370,"l":350,"h":390},{"s":"b","x":5,"m":375,"l":355,"h":395},
{"s":"c","x":0,"m":5,"l":3,"h":7},{"s":"c","x":0.25,"m":5,"l":3,"h":7},{"s":"c","x":0.5,"m":5,"l":3,"h":7},{"s":"c","x":0.75,"m":50,"l":30,"h":70},{"s":"c","x":1,"m":170,"l":140,"h":200},{"s":"c","x":1.25,"m":280,"l":250,"h":310},{"s":"c","x":1.5,"m":340,"l":315,"h":365},{"s":"c","x":1.75,"m":370,"l":345,"h":395},{"s":"c","x":2,"m":390,"l":365,"h":415},{"s":"c","x":2.25,"m":410,"l":385,"h":435},{"s":"c","x":2.5,"m":430,"l":405,"h":455},{"s":"c","x":2.75,"m":430,"l":405,"h":455},{"s":"c","x":3,"m":435,"l":410,"h":460},{"s":"c","x":3.25,"m":440,"l":415,"h":465},{"s":"c","x":3.5,"m":450,"l":425,"h":475},{"s":"c","x":3.75,"m":450,"l":425,"h":475},{"s":"c","x":4,"m":450,"l":425,"h":475},{"s":"c","x":4.25,"m":455,"l":430,"h":480},{"s":"c","x":4.5,"m":460,"l":435,"h":485},{"s":"c","x":4.75,"m":465,"l":440,"h":490},{"s":"c","x":5,"m":470,"l":445,"h":495},
{"s":"d","x":0,"m":5,"l":3,"h":7},{"s":"d","x":0.25,"m":5,"l":3,"h":7},{"s":"d","x":0.5,"m":5,"l":3,"h":7},{"s":"d","x":0.75,"m":8,"l":5,"h":11},{"s":"d","x":1,"m":20,"l":10,"h":30},{"s":"d","x":1.25,"m":50,"l":35,"h":65},{"s":"d","x":1.5,"m":100,"l":75,"h":125},{"s":"d","x":1.75,"m":150,"l":120,"h":180},{"s":"d","x":2,"m":185,"l":150,"h":220},{"s":"d","x":2.25,"m":195,"l":160,"h":230},{"s":"d","x":2.5,"m":205,"l":170,"h":240},{"s":"d","x":2.75,"m":220,"l":185,"h":255},{"s":"d","x":3,"m":240,"l":200,"h":280},{"s":"d","x":3.25,"m":245,"l":205,"h":285},{"s":"d","x":3.5,"m":250,"l":210,"h":290},{"s":"d","x":3.75,"m":255,"l":215,"h":295},{"s":"d","x":4,"m":255,"l":215,"h":295},{"s":"d","x":4.25,"m":240,"l":200,"h":280},{"s":"d","x":4.5,"m":260,"l":220,"h":300},{"s":"d","x":4.75,"m":265,"l":225,"h":305},{"s":"d","x":5,"m":270,"l":230,"h":310}
],
"hopst": [
{"s":"a","x":0,"m":0,"l":0,"h":0},{"s":"a","x":0.25,"m":0,"l":0,"h":0},{"s":"a","x":0.5,"m":120,"l":60,"h":180},{"s":"a","x":0.75,"m":300,"l":220,"h":380},{"s":"a","x":1,"m":450,"l":350,"h":550},{"s":"a","x":1.25,"m":620,"l":520,"h":720},{"s":"a","x":1.5,"m":800,"l":700,"h":900},{"s":"a","x":1.75,"m":890,"l":850,"h":930},{"s":"a","x":2,"m":905,"l":890,"h":925},{"s":"a","x":2.25,"m":910,"l":895,"h":925},{"s":"a","x":2.5,"m":910,"l":895,"h":925},{"s":"a","x":2.75,"m":920,"l":905,"h":935},{"s":"a","x":3,"m":920,"l":905,"h":935},{"s":"a","x":3.25,"m":915,"l":900,"h":930},{"s":"a","x":3.5,"m":920,"l":905,"h":935},{"s":"a","x":3.75,"m":915,"l":900,"h":930},{"s":"a","x":4,"m":920,"l":905,"h":935},{"s":"a","x":4.25,"m":920,"l":905,"h":935},{"s":"a","x":4.5,"m":920,"l":905,"h":935},{"s":"a","x":4.75,"m":915,"l":900,"h":930},{"s":"a","x":5,"m":910,"l":895,"h":925},
{"s":"b","x":0,"m":0,"l":0,"h":0},{"s":"b","x":0.25,"m":0,"l":0,"h":0},{"s":"b","x":0.5,"m":100,"l":40,"h":160},{"s":"b","x":0.75,"m":230,"l":150,"h":310},{"s":"b","x":1,"m":330,"l":220,"h":440},{"s":"b","x":1.25,"m":450,"l":330,"h":570},{"s":"b","x":1.5,"m":560,"l":400,"h":720},{"s":"b","x":1.75,"m":650,"l":450,"h":830},{"s":"b","x":2,"m":720,"l":480,"h":880},{"s":"b","x":2.25,"m":770,"l":600,"h":900},{"s":"b","x":2.5,"m":800,"l":680,"h":910},{"s":"b","x":2.75,"m":820,"l":720,"h":920},{"s":"b","x":3,"m":830,"l":740,"h":920},{"s":"b","x":3.25,"m":840,"l":760,"h":930},{"s":"b","x":3.5,"m":850,"l":770,"h":930},{"s":"b","x":3.75,"m":800,"l":690,"h":900},{"s":"b","x":4,"m":830,"l":760,"h":900},{"s":"b","x":4.25,"m":870,"l":830,"h":910},{"s":"b","x":4.5,"m":910,"l":890,"h":930},{"s":"b","x":4.75,"m":910,"l":890,"h":930},{"s":"b","x":5,"m":905,"l":885,"h":925},
{"s":"c","x":0,"m":0,"l":0,"h":0},{"s":"c","x":0.25,"m":0,"l":0,"h":0},{"s":"c","x":0.5,"m":170,"l":50,"h":300},{"s":"c","x":0.75,"m":350,"l":150,"h":550},{"s":"c","x":1,"m":500,"l":300,"h":750},{"s":"c","x":1.25,"m":690,"l":450,"h":880},{"s":"c","x":1.5,"m":730,"l":500,"h":940},{"s":"c","x":1.75,"m":760,"l":560,"h":960},{"s":"c","x":2,"m":780,"l":600,"h":970},{"s":"c","x":2.25,"m":780,"l":610,"h":965},{"s":"c","x":2.5,"m":800,"l":620,"h":960},{"s":"c","x":2.75,"m":810,"l":620,"h":965},{"s":"c","x":3,"m":815,"l":620,"h":970},{"s":"c","x":3.25,"m":790,"l":610,"h":980},{"s":"c","x":3.5,"m":800,"l":620,"h":960},{"s":"c","x":3.75,"m":890,"l":850,"h":930},{"s":"c","x":4,"m":900,"l":885,"h":915},{"s":"c","x":4.25,"m":900,"l":885,"h":915},{"s":"c","x":4.5,"m":905,"l":890,"h":920},{"s":"c","x":4.75,"m":900,"l":885,"h":915},{"s":"c","x":5,"m":900,"l":885,"h":915},
{"s":"d","x":0,"m":0,"l":0,"h":0},{"s":"d","x":0.25,"m":0,"l":0,"h":0},{"s":"d","x":0.5,"m":120,"l":60,"h":180},{"s":"d","x":0.75,"m":300,"l":220,"h":380},{"s":"d","x":1,"m":440,"l":340,"h":540},{"s":"d","x":1.25,"m":490,"l":380,"h":600},{"s":"d","x":1.5,"m":600,"l":480,"h":720},{"s":"d","x":1.75,"m":680,"l":570,"h":790},{"s":"d","x":2,"m":750,"l":650,"h":850},{"s":"d","x":2.25,"m":790,"l":700,"h":880},{"s":"d","x":2.5,"m":830,"l":750,"h":910},{"s":"d","x":2.75,"m":860,"l":790,"h":930},{"s":"d","x":3,"m":880,"l":810,"h":940},{"s":"d","x":3.25,"m":890,"l":830,"h":940},{"s":"d","x":3.5,"m":895,"l":850,"h":940},{"s":"d","x":3.75,"m":900,"l":870,"h":930},{"s":"d","x":4,"m":900,"l":880,"h":920},{"s":"d","x":4.25,"m":905,"l":885,"h":925},{"s":"d","x":4.5,"m":910,"l":890,"h":930},{"s":"d","x":4.75,"m":905,"l":890,"h":920},{"s":"d","x":5,"m":905,"l":890,"h":920}
],
"fing": [
{"s":"a","x":0,"m":70,"l":40,"h":100},{"s":"a","x":0.25,"m":80,"l":55,"h":105},{"s":"a","x":0.5,"m":130,"l":100,"h":160},{"s":"a","x":0.75,"m":250,"l":210,"h":290},{"s":"a","x":1,"m":420,"l":380,"h":460},{"s":"a","x":1.25,"m":550,"l":480,"h":620},{"s":"a","x":1.5,"m":700,"l":620,"h":780},{"s":"a","x":1.75,"m":730,"l":660,"h":800},{"s":"a","x":2,"m":790,"l":730,"h":850},{"s":"a","x":2.25,"m":830,"l":790,"h":870},{"s":"a","x":2.5,"m":840,"l":810,"h":870},{"s":"a","x":2.75,"m":860,"l":830,"h":890},{"s":"a","x":3,"m":860,"l":830,"h":890},{"s":"a","x":3.25,"m":870,"l":840,"h":900},{"s":"a","x":3.5,"m":875,"l":845,"h":905},{"s":"a","x":3.75,"m":880,"l":850,"h":910},{"s":"a","x":4,"m":900,"l":870,"h":930},{"s":"a","x":4.25,"m":910,"l":880,"h":940},{"s":"a","x":4.5,"m":910,"l":880,"h":940},{"s":"a","x":4.75,"m":860,"l":830,"h":890},{"s":"a","x":5,"m":870,"l":840,"h":900},
{"s":"b","x":0,"m":70,"l":40,"h":100},{"s":"b","x":0.25,"m":80,"l":55,"h":105},{"s":"b","x":0.5,"m":100,"l":70,"h":130},{"s":"b","x":0.75,"m":150,"l":100,"h":200},{"s":"b","x":1,"m":200,"l":130,"h":270},{"s":"b","x":1.25,"m":250,"l":150,"h":350},{"s":"b","x":1.5,"m":270,"l":170,"h":370},{"s":"b","x":1.75,"m":330,"l":230,"h":430},{"s":"b","x":2,"m":380,"l":270,"h":490},{"s":"b","x":2.25,"m":430,"l":320,"h":540},{"s":"b","x":2.5,"m":430,"l":320,"h":540},{"s":"b","x":2.75,"m":450,"l":330,"h":570},{"s":"b","x":3,"m":500,"l":380,"h":620},{"s":"b","x":3.25,"m":550,"l":420,"h":680},{"s":"b","x":3.5,"m":520,"l":400,"h":640},{"s":"b","x":3.75,"m":600,"l":460,"h":740},{"s":"b","x":4,"m":610,"l":460,"h":760},{"s":"b","x":4.25,"m":640,"l":490,"h":790},{"s":"b","x":4.5,"m":610,"l":470,"h":750},{"s":"b","x":4.75,"m":680,"l":530,"h":830},{"s":"b","x":5,"m":740,"l":600,"h":880},
{"s":"c","x":0,"m":70,"l":40,"h":100},{"s":"c","x":0.25,"m":80,"l":55,"h":105},{"s":"c","x":0.5,"m":150,"l":110,"h":190},{"s":"c","x":0.75,"m":250,"l":150,"h":350},{"s":"c","x":1,"m":450,"l":350,"h":600},{"s":"c","x":1.25,"m":450,"l":300,"h":650},{"s":"c","x":1.5,"m":500,"l":200,"h":750},{"s":"c","x":1.75,"m":500,"l":150,"h":700},{"s":"c","x":2,"m":470,"l":100,"h":650},{"s":"c","x":2.25,"m":380,"l":50,"h":600},{"s":"c","x":2.5,"m":330,"l":50,"h":550},{"s":"c","x":2.75,"m":300,"l":100,"h":550},{"s":"c","x":3,"m":240,"l":50,"h":500},{"s":"c","x":3.25,"m":190,"l":-100,"h":500},{"s":"c","x":3.5,"m":370,"l":-250,"h":1000},{"s":"c","x":3.75,"m":250,"l":-100,"h":650},{"s":"c","x":4,"m":100,"l":null,"h":null},{"s":"c","x":4.25,"m":40,"l":null,"h":null},{"s":"c","x":4.5,"m":220,"l":null,"h":null},{"s":"c","x":4.75,"m":150,"l":null,"h":null},
{"s":"d","x":0,"m":70,"l":40,"h":100},{"s":"d","x":0.25,"m":80,"l":55,"h":105},{"s":"d","x":0.5,"m":110,"l":80,"h":140},{"s":"d","x":0.75,"m":160,"l":110,"h":210},{"s":"d","x":1,"m":230,"l":150,"h":330},{"s":"d","x":1.25,"m":270,"l":170,"h":420},{"s":"d","x":1.5,"m":320,"l":200,"h":550},{"s":"d","x":1.75,"m":350,"l":200,"h":600},{"s":"d","x":2,"m":420,"l":200,"h":650},{"s":"d","x":2.25,"m":500,"l":240,"h":700},{"s":"d","x":2.5,"m":490,"l":280,"h":750},{"s":"d","x":2.75,"m":560,"l":320,"h":780},{"s":"d","x":3,"m":560,"l":350,"h":800},{"s":"d","x":3.25,"m":560,"l":380,"h":820},{"s":"d","x":3.5,"m":580,"l":400,"h":850},{"s":"d","x":3.75,"m":580,"l":440,"h":850},{"s":"d","x":4,"m":640,"l":480,"h":850},{"s":"d","x":4.25,"m":640,"l":470,"h":860},{"s":"d","x":4.5,"m":600,"l":450,"h":900},{"s":"d","x":4.75,"m":630,"l":460,"h":900},{"s":"d","x":5,"m":700,"l":480,"h":920}
]
},
"concat": [
{"title":{"text":"Ant","fontWeight":"normal"},"data":{"name":"ant"},"width":155,"height":128,
"encoding":{"x":{"field":"x","type":"quantitative","scale":{"domain":[-0.25,5.25],"nice":false},"axis":{"values":[0,1,2,3,4,5],"title":"Environment steps\u2003×10⁵"}},"color":{"field":"s","type":"nominal","title":null,"legend":{"labelExpr":"datum.label == 'a' ? 'DHMBPO' : datum.label == 'b' ? 'DHMBPO w/o Drop' : datum.label == 'c' ? 'DHBMPO w/o LayerNorm' : 'DHMBPO w/ ReLU'"}}},
"layer":[
{"mark":{"type":"area","fillOpacity":0.22},"encoding":{"y":{"field":"l","type":"quantitative","scale":{"domain":[-600,8650],"nice":false,"zero":false},"axis":{"values":[0,2000,4000,6000,8000],"title":"Test return"}},"y2":{"field":"h"}}},
{"mark":{"type":"line","strokeWidth":1.5},"encoding":{"y":{"field":"m","type":"quantitative","scale":{"domain":[-600,8650],"nice":false,"zero":false},"axis":{"values":[0,2000,4000,6000,8000],"title":"Test return"}}}}
]},
{"title":{"text":"HalfCheetah","fontWeight":"normal"},"data":{"name":"hc"},"width":155,"height":128,
"encoding":{"x":{"field":"x","type":"quantitative","scale":{"domain":[-0.25,5.25],"nice":false},"axis":{"values":[0,1,2,3,4,5],"title":"Environment steps\u2003×10⁵"}},"color":{"field":"s","type":"nominal","title":null,"legend":{"labelExpr":"datum.label == 'a' ? 'DHMBPO' : datum.label == 'b' ? 'DHMBPO w/o Drop' : datum.label == 'c' ? 'DHBMPO w/o LayerNorm' : 'DHMBPO w/ ReLU'"}}},
"layer":[
{"mark":{"type":"area","fillOpacity":0.22},"encoding":{"y":{"field":"l","type":"quantitative","scale":{"domain":[-860,14700],"nice":false,"zero":false},"axis":{"values":[0,4000,8000,12000],"title":null}},"y2":{"field":"h"}}},
{"mark":{"type":"line","strokeWidth":1.5},"encoding":{"y":{"field":"m","type":"quantitative","scale":{"domain":[-860,14700],"nice":false,"zero":false},"axis":{"values":[0,4000,8000,12000],"title":null}}}}
]},
{"title":{"text":"Hopper","fontWeight":"normal"},"data":{"name":"hop"},"width":155,"height":128,
"encoding":{"x":{"field":"x","type":"quantitative","scale":{"domain":[-0.25,5.25],"nice":false},"axis":{"values":[0,1,2,3,4,5],"title":"Environment steps\u2003×10⁵"}},"color":{"field":"s","type":"nominal","title":null,"legend":{"labelExpr":"datum.label == 'a' ? 'DHMBPO' : datum.label == 'b' ? 'DHMBPO w/o Drop' : datum.label == 'c' ? 'DHBMPO w/o LayerNorm' : 'DHMBPO w/ ReLU'"}}},
"layer":[
{"mark":{"type":"area","fillOpacity":0.22},"encoding":{"y":{"field":"l","type":"quantitative","scale":{"domain":[-195,4230],"nice":false,"zero":false},"axis":{"values":[0,1000,2000,3000,4000],"title":null}},"y2":{"field":"h"}}},
{"mark":{"type":"line","strokeWidth":1.5},"encoding":{"y":{"field":"m","type":"quantitative","scale":{"domain":[-195,4230],"nice":false,"zero":false},"axis":{"values":[0,1000,2000,3000,4000],"title":null}}}}
]},
{"title":{"text":"Humanoid","fontWeight":"normal"},"data":{"name":"hum"},"width":155,"height":128,
"encoding":{"x":{"field":"x","type":"quantitative","scale":{"domain":[-0.25,5.25],"nice":false},"axis":{"values":[0,1,2,3,4,5],"title":"Environment steps\u2003×10⁵"}},"color":{"field":"s","type":"nominal","title":null,"legend":{"labelExpr":"datum.label == 'a' ? 'DHMBPO' : datum.label == 'b' ? 'DHMBPO w/o Drop' : datum.label == 'c' ? 'DHBMPO w/o LayerNorm' : 'DHMBPO w/ ReLU'"}}},
"layer":[
{"mark":{"type":"area","fillOpacity":0.22},"encoding":{"y":{"field":"l","type":"quantitative","scale":{"domain":[-310,9700],"nice":false,"zero":false},"axis":{"values":[0,2000,4000,6000,8000],"title":null}},"y2":{"field":"h"}}},
{"mark":{"type":"line","strokeWidth":1.5},"encoding":{"y":{"field":"m","type":"quantitative","scale":{"domain":[-310,9700],"nice":false,"zero":false},"axis":{"values":[0,2000,4000,6000,8000],"title":null}}}}
]},
{"title":{"text":"Walker2d","fontWeight":"normal"},"data":{"name":"wal"},"width":155,"height":128,
"encoding":{"x":{"field":"x","type":"quantitative","scale":{"domain":[-0.25,5.25],"nice":false},"axis":{"values":[0,1,2,3,4,5],"title":"Environment steps\u2003×10⁵"}},"color":{"field":"s","type":"nominal","title":null,"legend":{"labelExpr":"datum.label == 'a' ? 'DHMBPO' : datum.label == 'b' ? 'DHMBPO w/o Drop' : datum.label == 'c' ? 'DHBMPO w/o LayerNorm' : 'DHMBPO w/ ReLU'"}}},
"layer":[
{"mark":{"type":"area","fillOpacity":0.22},"encoding":{"y":{"field":"l","type":"quantitative","scale":{"domain":[-450,10280],"nice":false,"zero":false},"axis":{"values":[0,2500,5000,7500,10000],"title":null}},"y2":{"field":"h"}}},
{"mark":{"type":"line","strokeWidth":1.5},"encoding":{"y":{"field":"m","type":"quantitative","scale":{"domain":[-450,10280],"nice":false,"zero":false},"axis":{"values":[0,2500,5000,7500,10000],"title":null}}}}
]},
{"title":{"text":"cartpole-swingup_sparse","fontWeight":"normal"},"data":{"name":"cart"},"width":155,"height":128,
"encoding":{"x":{"field":"x","type":"quantitative","scale":{"domain":[-0.25,5.25],"nice":false},"axis":{"values":[0,1,2,3,4,5],"title":"Environment steps\u2003×10⁵"}},"color":{"field":"s","type":"nominal","title":null,"legend":{"labelExpr":"datum.label == 'a' ? 'DHMBPO' : datum.label == 'b' ? 'DHMBPO w/o Drop' : datum.label == 'c' ? 'DHBMPO w/o LayerNorm' : 'DHMBPO w/ ReLU'"}}},
"layer":[
{"mark":{"type":"area","fillOpacity":0.22},"encoding":{"y":{"field":"l","type":"quantitative","scale":{"domain":[-93,994],"nice":false,"zero":false},"axis":{"values":[0,250,500,750],"title":"Test return"}},"y2":{"field":"h"}}},
{"mark":{"type":"line","strokeWidth":1.5},"encoding":{"y":{"field":"m","type":"quantitative","scale":{"domain":[-93,994],"nice":false,"zero":false},"axis":{"values":[0,250,500,750],"title":"Test return"}}}}
]},
{"title":{"text":"quadruped-run","fontWeight":"normal"},"data":{"name":"quad"},"width":155,"height":128,
"encoding":{"x":{"field":"x","type":"quantitative","scale":{"domain":[-0.25,5.25],"nice":false},"axis":{"values":[0,1,2,3,4,5],"title":"Environment steps\u2003×10⁵"}},"color":{"field":"s","type":"nominal","title":null,"legend":{"labelExpr":"datum.label == 'a' ? 'DHMBPO' : datum.label == 'b' ? 'DHMBPO w/o Drop' : datum.label == 'c' ? 'DHBMPO w/o LayerNorm' : 'DHMBPO w/ ReLU'"}}},
"layer":[
{"mark":{"type":"area","fillOpacity":0.22},"encoding":{"y":{"field":"l","type":"quantitative","scale":{"domain":[19,936],"nice":false,"zero":false},"axis":{"values":[200,400,600,800],"title":null}},"y2":{"field":"h"}}},
{"mark":{"type":"line","strokeWidth":1.5},"encoding":{"y":{"field":"m","type":"quantitative","scale":{"domain":[19,936],"nice":false,"zero":false},"axis":{"values":[200,400,600,800],"title":null}}}}
]},
{"title":{"text":"humanoid-stand","fontWeight":"normal"},"data":{"name":"hstand"},"width":155,"height":128,
"encoding":{"x":{"field":"x","type":"quantitative","scale":{"domain":[-0.25,5.25],"nice":false},"axis":{"values":[0,1,2,3,4,5],"title":"Environment steps\u2003×10⁵"}},"color":{"field":"s","type":"nominal","title":null,"legend":{"labelExpr":"datum.label == 'a' ? 'DHMBPO' : datum.label == 'b' ? 'DHMBPO w/o Drop' : datum.label == 'c' ? 'DHBMPO w/o LayerNorm' : 'DHMBPO w/ ReLU'"}}},
"layer":[
{"mark":{"type":"area","fillOpacity":0.22},"encoding":{"y":{"field":"l","type":"quantitative","scale":{"domain":[-23,524],"nice":false,"zero":false},"axis":{"values":[0,150,300,450],"title":null}},"y2":{"field":"h"}}},
{"mark":{"type":"line","strokeWidth":1.5},"encoding":{"y":{"field":"m","type":"quantitative","scale":{"domain":[-23,524],"nice":false,"zero":false},"axis":{"values":[0,150,300,450],"title":null}}}}
]},
{"title":{"text":"hopper-stand","fontWeight":"normal"},"data":{"name":"hopst"},"width":155,"height":128,
"encoding":{"x":{"field":"x","type":"quantitative","scale":{"domain":[-0.25,5.25],"nice":false},"axis":{"values":[0,1,2,3,4,5],"title":"Environment steps\u2003×10⁵"}},"color":{"field":"s","type":"nominal","title":null,"legend":{"labelExpr":"datum.label == 'a' ? 'DHMBPO' : datum.label == 'b' ? 'DHMBPO w/o Drop' : datum.label == 'c' ? 'DHBMPO w/o LayerNorm' : 'DHMBPO w/ ReLU'"}}},
"layer":[
{"mark":{"type":"area","fillOpacity":0.22},"encoding":{"y":{"field":"l","type":"quantitative","scale":{"domain":[-55,1057],"nice":false,"zero":false},"axis":{"values":[0,250,500,750,1000],"title":null}},"y2":{"field":"h"}}},
{"mark":{"type":"line","strokeWidth":1.5},"encoding":{"y":{"field":"m","type":"quantitative","scale":{"domain":[-55,1057],"nice":false,"zero":false},"axis":{"values":[0,250,500,750,1000],"title":null}}}}
]},
{"title":{"text":"finger-turn_hard","fontWeight":"normal"},"data":{"name":"fing"},"width":155,"height":128,
"encoding":{"x":{"field":"x","type":"quantitative","scale":{"domain":[-0.25,5.25],"nice":false},"axis":{"values":[0,1,2,3,4,5],"title":"Environment steps\u2003×10⁵"}},"color":{"field":"s","type":"nominal","title":null,"legend":{"labelExpr":"datum.label == 'a' ? 'DHMBPO' : datum.label == 'b' ? 'DHMBPO w/o Drop' : datum.label == 'c' ? 'DHBMPO w/o LayerNorm' : 'DHMBPO w/ ReLU'"}}},
"layer":[
{"mark":{"type":"area","fillOpacity":0.22},"encoding":{"y":{"field":"l","type":"quantitative","scale":{"domain":[-325,1066],"nice":false,"zero":false},"axis":{"values":[-300,0,300,600,900],"title":null}},"y2":{"field":"h"}}},
{"mark":{"type":"line","strokeWidth":1.5},"encoding":{"y":{"field":"m","type":"quantitative","scale":{"domain":[-325,1066],"nice":false,"zero":false},"axis":{"values":[-300,0,300,600,900],"title":null}}}}
]}
],
"config": {
"font": "Liberation Serif, DejaVu Serif, serif",
"view": {"stroke": "#3a3a3a", "strokeWidth": 1},
"axis": {"grid": true, "gridColor": "#e8e8e8", "gridWidth": 0.8, "domain": false, "tickColor": "#3a3a3a", "tickSize": 3, "labelFontSize": 10.5, "labelColor": "#222222", "labelPadding": 2, "titleFontSize": 12, "titleFontWeight": "normal", "titleColor": "#222222", "labelFont": "Liberation Serif, DejaVu Serif, serif", "titleFont": "Liberation Serif, DejaVu Serif, serif", "format": "d"},
"axisX": {"titlePadding": 3, "titleAnchor": "end"},
"axisY": {"titlePadding": 4},
"title": {"fontSize": 14, "fontWeight": "normal", "offset": 4, "color": "#111111", "font": "Liberation Serif, DejaVu Serif, serif"},
"style": {"group-title": {"fontWeight": "normal", "fontSize": 14}},
"range": {"category": ["#F4802F", "#63AE8E", "#8A2D7E", "#46B8E8"]},
"legend": {"orient": "none", "legendX": 186, "legendY": 349, "direction": "horizontal", "symbolType": "stroke", "symbolSize": 225, "symbolStrokeWidth": 1.6, "symbolOpacity": 1, "labelFontSize": 10, "labelFont": "Liberation Serif, DejaVu Serif, serif", "labelColor": "#222222", "columnPadding": 7, "labelOffset": 5}
}
}
